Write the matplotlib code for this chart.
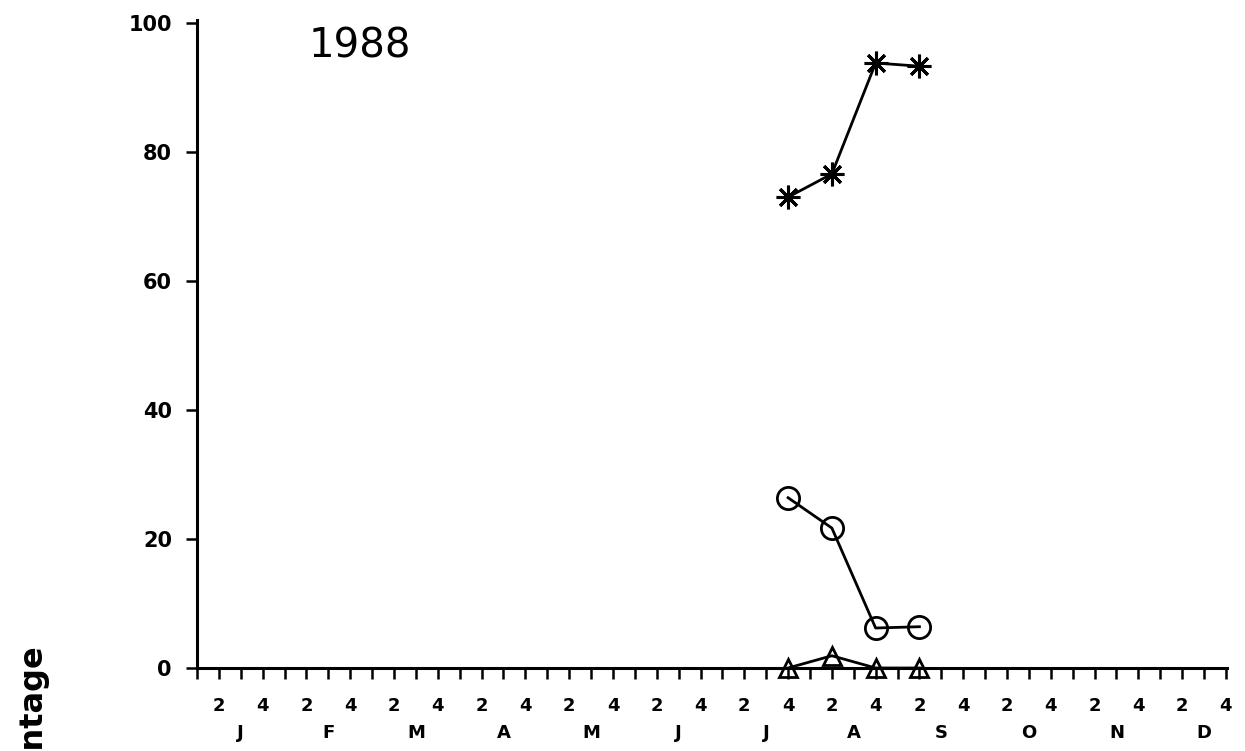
import matplotlib
matplotlib.use("Agg")
import matplotlib.pyplot as plt
import matplotlib.transforms as mtransforms

# ---- data ----
months = ["J", "F", "M", "A", "M", "J", "J", "A", "S", "O", "N", "D"]
week_labels = ["2", "4"]
# sampling dates as (month index, week of month)
sample_month = [6, 7, 7, 8]
sample_week = [4, 2, 4, 2]
stars = [73.0, 76.6, 93.8, 93.3]
circles = [26.4, 21.7, 6.2, 6.4]
triangles = [0.0, 1.9, 0.0, 0.0]
y_ticks = [0, 20, 40, 60, 80, 100]
title = "1988"
ylabel = "Percentage"

x = [4 * m + (w - 1) for m, w in zip(sample_month, sample_week)]

W, H = 1245, 751
fig = plt.figure(figsize=(W / 100, H / 100), dpi=100)
ax = fig.add_axes([197 / W, (H - 668) / H, 1030 / W, 645 / H])

ax.plot(x, stars, color="black", lw=2, marker=(8, 2, 0), ms=17, mew=2.2,
        clip_on=False, zorder=3)
ax.plot(x, circles, color="black", lw=2, marker="o", ms=16, mfc="none", mew=2,
        clip_on=False, zorder=3)
ax.plot(x, triangles, color="black", lw=2, marker="^", ms=13, mfc="none", mew=2,
        clip_on=False, zorder=3)

ax.set_xlim(0, 47.05)
ax.set_ylim(0, 100)
for s in ["top", "right"]:
    ax.spines[s].set_visible(False)
ax.spines["left"].set_linewidth(2.2)
ax.spines["bottom"].set_linewidth(2.2)
ax.spines["left"].set_bounds(0, 100.5)

ax.set_yticks(y_ticks)
ax.set_yticklabels([str(v) for v in y_ticks], fontsize=15, fontweight="bold",
                   family="DejaVu Sans")
ax.tick_params(axis="y", direction="out", length=8, width=1.8, pad=10)

ax.set_xticks(range(0, 48))
ax.set_xticklabels([])
ax.tick_params(axis="x", direction="out", length=8, width=1.8)

trans = mtransforms.blended_transform_factory(ax.transData, ax.transAxes)
for m, name in enumerate(months):
    for j, wl in enumerate(week_labels):
        ax.text(4 * m + 1 + 2 * j, -0.0589, wl, transform=trans, ha="center",
                va="center", fontsize=13, fontweight="bold", family="DejaVu Sans")
    ax.text(4 * m + 2, -0.1008, name, transform=trans, ha="center", va="center",
            fontsize=13, fontweight="bold", family="DejaVu Sans")

ax.text((360 - 197) / 1030, (668 - 46) / 645, title, transform=ax.transAxes,
        ha="center", va="center", fontsize=29, family="DejaVu Sans")

fig.text(32 / W, 1 - 643 / H, ylabel, rotation=90, ha="center", va="top",
         fontsize=23, fontweight="bold", family="DejaVu Sans")

fig.savefig("out.png", dpi=100)
